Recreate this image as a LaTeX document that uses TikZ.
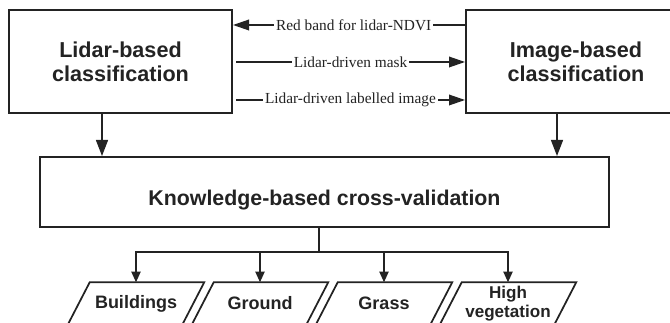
\documentclass[tikz,border=0pt]{standalone}
\usepackage{fontspec}
\setmainfont{Liberation Serif}
\setsansfont{Liberation Sans}
\usetikzlibrary{arrows.meta,calc}
\definecolor{ink}{HTML}{232323}
\begin{document}
\begin{tikzpicture}[x=0.75pt,y=-0.75pt,
  box/.style={draw=ink, line width=1.5pt, fill=white, inner sep=0pt, align=center, text=ink,
    font=\sffamily\bfseries\fontsize{16.2}{18}\selectfont},
  conn/.style={draw=ink, line width=1pt},
  bigtip/.style={-{Triangle[length=12pt,width=8pt]}},
  smalltip/.style={-{Triangle[length=8pt,width=7pt]}},
  tag/.style={fill=white, inner sep=1.5pt, text=ink, font=\fontsize{11.5}{13}\selectfont},
  outcls/.style={inner sep=0pt, minimum width=102pt, minimum height=31.5pt, align=center, text=ink,
    font=\sffamily\bfseries\fontsize{13.5}{14}\selectfont},
  slant/.style={draw=ink, line width=1.3pt}
]
\useasboundingbox (0,0) rectangle (670,323);
\clip (0,0) rectangle (670,323);
\fill[white] (0,0) rectangle (670,323);

% the two classifiers
\node[box, minimum width=167.25pt, minimum height=77.25pt] (lid) at (120.5,61.5) {Lidar-based\\classification};
\node[box, minimum width=165pt, minimum height=77.25pt] (img) at (576,61.5) {Image-based\\classification};

% cross-validation stage
\node[box, minimum width=426.75pt, minimum height=52.5pt] (kb) at (324.5,192) {};
\node[text=ink, inner sep=0pt, font=\sffamily\bfseries\fontsize{16}{18}\selectfont] (kbt) at (324.5,200) {Knowledge-based cross-validation};

% exchanges between the classifiers
\coordinate (rb) at (350,25);
\coordinate (mk) at (236,62);
\coordinate (lb) at (236,100);
\draw[conn, bigtip] (img.west |- rb) -- node[tag, pos=0.48] {Red band for lidar-NDVI} (lid.east |- rb);
\draw[conn, bigtip] (mk) -- node[tag] {Lidar-driven mask} (img.west |- mk);
\draw[conn, bigtip] (lb) -- node[tag] {Lidar-driven labelled image} (img.west |- lb);

% both results feed the validation
\coordinate (dl) at (102,0);
\coordinate (dr) at (557,0);
\draw[conn, -{Triangle[length=12pt,width=9pt]}] (lid.south -| dl) -- (kb.north -| dl);
\draw[conn, -{Triangle[length=12pt,width=9pt]}] (img.south -| dr) -- (kb.north -| dr);

% output classes
\node[outcls] (bld) at (136,303.5) {Buildings};
\node[outcls] (gnd) at (260,303.5) {Ground};
\node[outcls] (grs) at (384,303.5) {Grass};
\node[outcls, font=\sffamily\bfseries\fontsize{12.8}{14.5}\selectfont] (veg) at (508,303.5) {High\\vegetation};
\foreach \n in {bld,gnd,grs,veg}
  \draw[slant] ($(\n.north west)+(16.5pt,0)$) -- (\n.north east) -- ($(\n.south east)+(-16.5pt,0)$) -- (\n.south west) -- cycle;

\coordinate (split) at (319,252);
\draw[conn] (kb.south -| split) -- (split);
\foreach \n in {bld,gnd,grs,veg}
  \draw[conn, smalltip] (split) -| (\n.north);
\end{tikzpicture}
\end{document}
